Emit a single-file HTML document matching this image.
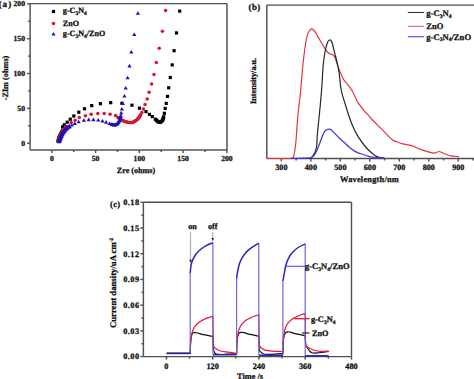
<!DOCTYPE html>
<html><head><meta charset="utf-8"><style>
html,body{margin:0;padding:0;background:#fff;width:474px;height:379px;overflow:hidden;}
svg{display:block;}
</style></head><body>
<svg width="474" height="379" viewBox="0 0 474 379" font-family='"Liberation Serif", serif' font-weight="bold" fill="#111" text-rendering="geometricPrecision">
<line x1="30.10" y1="3.60" x2="227.00" y2="3.60" stroke="#505050" stroke-width="1.45"/>
<line x1="30.10" y1="150.00" x2="227.00" y2="150.00" stroke="#505050" stroke-width="1.45"/>
<line x1="30.10" y1="3.60" x2="30.10" y2="150.00" stroke="#505050" stroke-width="1.45"/>
<line x1="227.00" y1="3.60" x2="227.00" y2="150.00" stroke="#505050" stroke-width="1.45"/>
<line x1="27.10" y1="143.20" x2="30.10" y2="143.20" stroke="#505050" stroke-width="1.45"/>
<text x="25.00" y="145.80" font-size="7.7" text-anchor="end"  stroke="#000" stroke-width="0.25">0</text>
<line x1="28.10" y1="125.78" x2="30.10" y2="125.78" stroke="#505050" stroke-width="1.45"/>
<line x1="27.10" y1="108.36" x2="30.10" y2="108.36" stroke="#505050" stroke-width="1.45"/>
<text x="25.00" y="110.96" font-size="7.7" text-anchor="end"  stroke="#000" stroke-width="0.25">50</text>
<line x1="28.10" y1="90.95" x2="30.10" y2="90.95" stroke="#505050" stroke-width="1.45"/>
<line x1="27.10" y1="73.53" x2="30.10" y2="73.53" stroke="#505050" stroke-width="1.45"/>
<text x="25.00" y="76.13" font-size="7.7" text-anchor="end"  stroke="#000" stroke-width="0.25">100</text>
<line x1="28.10" y1="56.11" x2="30.10" y2="56.11" stroke="#505050" stroke-width="1.45"/>
<line x1="27.10" y1="38.69" x2="30.10" y2="38.69" stroke="#505050" stroke-width="1.45"/>
<text x="25.00" y="41.29" font-size="7.7" text-anchor="end"  stroke="#000" stroke-width="0.25">150</text>
<line x1="28.10" y1="21.28" x2="30.10" y2="21.28" stroke="#505050" stroke-width="1.45"/>
<line x1="27.10" y1="3.86" x2="30.10" y2="3.86" stroke="#505050" stroke-width="1.45"/>
<text x="25.00" y="6.46" font-size="7.7" text-anchor="end"  stroke="#000" stroke-width="0.25">200</text>
<line x1="51.80" y1="150.00" x2="51.80" y2="153.00" stroke="#505050" stroke-width="1.45"/>
<text x="51.80" y="161.30" font-size="7.7" text-anchor="middle"  stroke="#000" stroke-width="0.25">0</text>
<line x1="73.69" y1="150.00" x2="73.69" y2="152.00" stroke="#505050" stroke-width="1.45"/>
<line x1="95.58" y1="150.00" x2="95.58" y2="153.00" stroke="#505050" stroke-width="1.45"/>
<text x="95.58" y="161.30" font-size="7.7" text-anchor="middle"  stroke="#000" stroke-width="0.25">50</text>
<line x1="117.47" y1="150.00" x2="117.47" y2="152.00" stroke="#505050" stroke-width="1.45"/>
<line x1="139.36" y1="150.00" x2="139.36" y2="153.00" stroke="#505050" stroke-width="1.45"/>
<text x="139.36" y="161.30" font-size="7.7" text-anchor="middle"  stroke="#000" stroke-width="0.25">100</text>
<line x1="161.25" y1="150.00" x2="161.25" y2="152.00" stroke="#505050" stroke-width="1.45"/>
<line x1="183.14" y1="150.00" x2="183.14" y2="153.00" stroke="#505050" stroke-width="1.45"/>
<text x="183.14" y="161.30" font-size="7.7" text-anchor="middle"  stroke="#000" stroke-width="0.25">150</text>
<line x1="205.03" y1="150.00" x2="205.03" y2="152.00" stroke="#505050" stroke-width="1.45"/>
<line x1="226.92" y1="150.00" x2="226.92" y2="153.00" stroke="#505050" stroke-width="1.45"/>
<text x="226.92" y="161.30" font-size="7.7" text-anchor="middle"  stroke="#000" stroke-width="0.25">200</text>
<text x="136.00" y="172.80" font-size="8.1" text-anchor="middle"  stroke="#000" stroke-width="0.25">Zre (ohms)</text>
<text transform="translate(8.4,78) rotate(-90)" x="0" y="0" font-size="8.25" text-anchor="middle" stroke="#000" stroke-width="0.25">-ZIm (ohms)</text>
<text x="-1.20" y="7.00" font-size="9.0" text-anchor="start"  stroke="#000" stroke-width="0.25">(<tspan x="2.6">a</tspan><tspan x="8.3">)</tspan></text>
<rect x="56.40" y="139.40" width="3.2" height="3.2" fill="#000"/>
<rect x="56.75" y="138.33" width="3.2" height="3.2" fill="#000"/>
<rect x="57.10" y="137.25" width="3.2" height="3.2" fill="#000"/>
<rect x="57.45" y="136.18" width="3.2" height="3.2" fill="#000"/>
<rect x="57.80" y="135.10" width="3.2" height="3.2" fill="#000"/>
<rect x="58.27" y="134.10" width="3.2" height="3.2" fill="#000"/>
<rect x="58.75" y="133.10" width="3.2" height="3.2" fill="#000"/>
<rect x="59.22" y="132.10" width="3.2" height="3.2" fill="#000"/>
<rect x="59.70" y="131.10" width="3.2" height="3.2" fill="#000"/>
<rect x="60.30" y="130.05" width="3.2" height="3.2" fill="#000"/>
<rect x="60.90" y="129.00" width="3.2" height="3.2" fill="#000"/>
<rect x="61.00" y="125.40" width="3.2" height="3.2" fill="#000"/>
<rect x="62.60" y="123.20" width="3.2" height="3.2" fill="#000"/>
<rect x="65.60" y="120.60" width="3.2" height="3.2" fill="#000"/>
<rect x="68.70" y="117.60" width="3.2" height="3.2" fill="#000"/>
<rect x="72.20" y="114.40" width="3.2" height="3.2" fill="#000"/>
<rect x="77.20" y="110.60" width="3.2" height="3.2" fill="#000"/>
<rect x="82.90" y="107.20" width="3.2" height="3.2" fill="#000"/>
<rect x="90.10" y="104.00" width="3.2" height="3.2" fill="#000"/>
<rect x="98.80" y="102.10" width="3.2" height="3.2" fill="#000"/>
<rect x="109.10" y="101.10" width="3.2" height="3.2" fill="#000"/>
<rect x="120.30" y="101.70" width="3.2" height="3.2" fill="#000"/>
<rect x="130.30" y="103.60" width="3.2" height="3.2" fill="#000"/>
<rect x="137.80" y="106.60" width="3.2" height="3.2" fill="#000"/>
<rect x="144.40" y="110.00" width="3.2" height="3.2" fill="#000"/>
<rect x="147.80" y="112.80" width="3.2" height="3.2" fill="#000"/>
<rect x="150.70" y="115.00" width="3.2" height="3.2" fill="#000"/>
<rect x="153.80" y="117.60" width="3.2" height="3.2" fill="#000"/>
<rect x="154.45" y="118.25" width="3.2" height="3.2" fill="#000"/>
<rect x="155.10" y="118.90" width="3.2" height="3.2" fill="#000"/>
<rect x="155.75" y="119.55" width="3.2" height="3.2" fill="#000"/>
<rect x="156.40" y="120.20" width="3.2" height="3.2" fill="#000"/>
<rect x="157.50" y="120.50" width="3.2" height="3.2" fill="#000"/>
<rect x="158.60" y="120.80" width="3.2" height="3.2" fill="#000"/>
<rect x="159.37" y="120.17" width="3.2" height="3.2" fill="#000"/>
<rect x="160.13" y="119.53" width="3.2" height="3.2" fill="#000"/>
<rect x="160.90" y="118.90" width="3.2" height="3.2" fill="#000"/>
<rect x="161.20" y="117.98" width="3.2" height="3.2" fill="#000"/>
<rect x="161.50" y="117.05" width="3.2" height="3.2" fill="#000"/>
<rect x="161.80" y="116.12" width="3.2" height="3.2" fill="#000"/>
<rect x="162.10" y="115.20" width="3.2" height="3.2" fill="#000"/>
<rect x="162.80" y="111.70" width="3.2" height="3.2" fill="#000"/>
<rect x="163.60" y="106.80" width="3.2" height="3.2" fill="#000"/>
<rect x="164.60" y="101.80" width="3.2" height="3.2" fill="#000"/>
<rect x="165.90" y="94.80" width="3.2" height="3.2" fill="#000"/>
<rect x="167.10" y="86.20" width="3.2" height="3.2" fill="#000"/>
<rect x="168.70" y="75.90" width="3.2" height="3.2" fill="#000"/>
<rect x="170.60" y="63.30" width="3.2" height="3.2" fill="#000"/>
<rect x="172.50" y="49.10" width="3.2" height="3.2" fill="#000"/>
<rect x="174.90" y="31.30" width="3.2" height="3.2" fill="#000"/>
<rect x="178.10" y="9.50" width="3.2" height="3.2" fill="#000"/>
<circle cx="58.50" cy="140.90" r="1.75" fill="#d81530"/>
<circle cx="58.85" cy="139.83" r="1.75" fill="#d81530"/>
<circle cx="59.20" cy="138.75" r="1.75" fill="#d81530"/>
<circle cx="59.55" cy="137.68" r="1.75" fill="#d81530"/>
<circle cx="59.90" cy="136.60" r="1.75" fill="#d81530"/>
<circle cx="60.38" cy="135.60" r="1.75" fill="#d81530"/>
<circle cx="60.85" cy="134.60" r="1.75" fill="#d81530"/>
<circle cx="61.32" cy="133.60" r="1.75" fill="#d81530"/>
<circle cx="61.80" cy="132.60" r="1.75" fill="#d81530"/>
<circle cx="62.40" cy="131.70" r="1.75" fill="#d81530"/>
<circle cx="63.00" cy="130.80" r="1.75" fill="#d81530"/>
<circle cx="63.60" cy="129.90" r="1.75" fill="#d81530"/>
<circle cx="64.20" cy="129.00" r="1.75" fill="#d81530"/>
<circle cx="65.03" cy="128.17" r="1.75" fill="#d81530"/>
<circle cx="65.87" cy="127.33" r="1.75" fill="#d81530"/>
<circle cx="66.70" cy="126.50" r="1.75" fill="#d81530"/>
<circle cx="71.20" cy="122.60" r="1.75" fill="#d81530"/>
<circle cx="75.10" cy="120.30" r="1.75" fill="#d81530"/>
<circle cx="79.30" cy="117.60" r="1.75" fill="#d81530"/>
<circle cx="85.40" cy="115.70" r="1.75" fill="#d81530"/>
<circle cx="91.10" cy="114.30" r="1.75" fill="#d81530"/>
<circle cx="97.80" cy="113.50" r="1.75" fill="#d81530"/>
<circle cx="104.20" cy="113.50" r="1.75" fill="#d81530"/>
<circle cx="110.10" cy="114.30" r="1.75" fill="#d81530"/>
<circle cx="115.60" cy="115.40" r="1.75" fill="#d81530"/>
<circle cx="118.00" cy="117.40" r="1.75" fill="#d81530"/>
<circle cx="118.62" cy="117.93" r="1.75" fill="#d81530"/>
<circle cx="119.25" cy="118.45" r="1.75" fill="#d81530"/>
<circle cx="119.88" cy="118.97" r="1.75" fill="#d81530"/>
<circle cx="120.50" cy="119.50" r="1.75" fill="#d81530"/>
<circle cx="121.38" cy="119.92" r="1.75" fill="#d81530"/>
<circle cx="122.25" cy="120.35" r="1.75" fill="#d81530"/>
<circle cx="123.12" cy="120.78" r="1.75" fill="#d81530"/>
<circle cx="124.00" cy="121.20" r="1.75" fill="#d81530"/>
<circle cx="124.90" cy="121.44" r="1.75" fill="#d81530"/>
<circle cx="125.80" cy="121.68" r="1.75" fill="#d81530"/>
<circle cx="126.70" cy="121.92" r="1.75" fill="#d81530"/>
<circle cx="127.60" cy="122.16" r="1.75" fill="#d81530"/>
<circle cx="128.50" cy="122.40" r="1.75" fill="#d81530"/>
<circle cx="129.34" cy="122.42" r="1.75" fill="#d81530"/>
<circle cx="130.18" cy="122.44" r="1.75" fill="#d81530"/>
<circle cx="131.02" cy="122.46" r="1.75" fill="#d81530"/>
<circle cx="131.86" cy="122.48" r="1.75" fill="#d81530"/>
<circle cx="132.70" cy="122.50" r="1.75" fill="#d81530"/>
<circle cx="133.46" cy="122.04" r="1.75" fill="#d81530"/>
<circle cx="134.22" cy="121.58" r="1.75" fill="#d81530"/>
<circle cx="134.98" cy="121.12" r="1.75" fill="#d81530"/>
<circle cx="135.74" cy="120.66" r="1.75" fill="#d81530"/>
<circle cx="136.50" cy="120.20" r="1.75" fill="#d81530"/>
<circle cx="137.04" cy="119.60" r="1.75" fill="#d81530"/>
<circle cx="137.58" cy="119.00" r="1.75" fill="#d81530"/>
<circle cx="138.12" cy="118.40" r="1.75" fill="#d81530"/>
<circle cx="138.66" cy="117.80" r="1.75" fill="#d81530"/>
<circle cx="139.20" cy="117.20" r="1.75" fill="#d81530"/>
<circle cx="139.67" cy="116.40" r="1.75" fill="#d81530"/>
<circle cx="140.13" cy="115.60" r="1.75" fill="#d81530"/>
<circle cx="140.60" cy="114.80" r="1.75" fill="#d81530"/>
<circle cx="141.80" cy="112.60" r="1.75" fill="#d81530"/>
<circle cx="143.40" cy="109.00" r="1.75" fill="#d81530"/>
<circle cx="145.00" cy="104.60" r="1.75" fill="#d81530"/>
<circle cx="147.20" cy="98.90" r="1.75" fill="#d81530"/>
<circle cx="149.10" cy="92.20" r="1.75" fill="#d81530"/>
<circle cx="151.60" cy="83.90" r="1.75" fill="#d81530"/>
<circle cx="154.00" cy="74.40" r="1.75" fill="#d81530"/>
<circle cx="156.30" cy="62.60" r="1.75" fill="#d81530"/>
<circle cx="159.20" cy="48.30" r="1.75" fill="#d81530"/>
<circle cx="162.40" cy="31.20" r="1.75" fill="#d81530"/>
<circle cx="165.60" cy="10.50" r="1.75" fill="#d81530"/>
<polygon points="56.60,143.20 61.60,143.20 59.10,138.80" fill="#1a10b8"/>
<polygon points="56.95,142.20 61.95,142.20 59.45,137.80" fill="#1a10b8"/>
<polygon points="57.30,141.20 62.30,141.20 59.80,136.80" fill="#1a10b8"/>
<polygon points="57.65,140.20 62.65,140.20 60.15,135.80" fill="#1a10b8"/>
<polygon points="58.00,139.20 63.00,139.20 60.50,134.80" fill="#1a10b8"/>
<polygon points="58.48,138.20 63.48,138.20 60.98,133.80" fill="#1a10b8"/>
<polygon points="58.95,137.20 63.95,137.20 61.45,132.80" fill="#1a10b8"/>
<polygon points="59.42,136.20 64.42,136.20 61.92,131.80" fill="#1a10b8"/>
<polygon points="59.90,135.20 64.90,135.20 62.40,130.80" fill="#1a10b8"/>
<polygon points="60.50,134.35 65.50,134.35 63.00,129.95" fill="#1a10b8"/>
<polygon points="61.10,133.50 66.10,133.50 63.60,129.10" fill="#1a10b8"/>
<polygon points="61.70,132.65 66.70,132.65 64.20,128.25" fill="#1a10b8"/>
<polygon points="62.30,131.80 67.30,131.80 64.80,127.40" fill="#1a10b8"/>
<polygon points="63.10,131.00 68.10,131.00 65.60,126.60" fill="#1a10b8"/>
<polygon points="63.90,130.20 68.90,130.20 66.40,125.80" fill="#1a10b8"/>
<polygon points="64.70,129.40 69.70,129.40 67.20,125.00" fill="#1a10b8"/>
<polygon points="65.80,128.80 70.80,128.80 68.30,124.40" fill="#1a10b8"/>
<polygon points="66.90,128.20 71.90,128.20 69.40,123.80" fill="#1a10b8"/>
<polygon points="69.70,126.60 73.90,126.60 71.80,123.00" fill="#1a10b8"/>
<polygon points="72.70,125.00 76.90,125.00 74.80,121.40" fill="#1a10b8"/>
<polygon points="76.60,123.30 80.80,123.30 78.70,119.70" fill="#1a10b8"/>
<polygon points="81.80,121.80 86.00,121.80 83.90,118.20" fill="#1a10b8"/>
<polygon points="86.60,121.20 90.80,121.20 88.70,117.60" fill="#1a10b8"/>
<polygon points="91.30,121.20 95.50,121.20 93.40,117.60" fill="#1a10b8"/>
<polygon points="96.10,121.60 100.30,121.60 98.20,118.00" fill="#1a10b8"/>
<polygon points="100.40,122.60 104.60,122.60 102.50,119.00" fill="#1a10b8"/>
<polygon points="104.00,123.70 108.20,123.70 106.10,120.10" fill="#1a10b8"/>
<polygon points="107.50,125.00 111.70,125.00 109.60,121.40" fill="#1a10b8"/>
<polygon points="109.40,125.80 113.60,125.80 111.50,122.20" fill="#1a10b8"/>
<polygon points="110.23,126.00 114.43,126.00 112.33,122.40" fill="#1a10b8"/>
<polygon points="111.07,126.20 115.27,126.20 113.17,122.60" fill="#1a10b8"/>
<polygon points="111.90,126.40 116.10,126.40 114.00,122.80" fill="#1a10b8"/>
<polygon points="112.73,126.27 116.93,126.27 114.83,122.67" fill="#1a10b8"/>
<polygon points="113.57,126.13 117.77,126.13 115.67,122.53" fill="#1a10b8"/>
<polygon points="114.40,126.00 118.60,126.00 116.50,122.40" fill="#1a10b8"/>
<polygon points="115.07,125.27 119.27,125.27 117.17,121.67" fill="#1a10b8"/>
<polygon points="115.73,124.53 119.93,124.53 117.83,120.93" fill="#1a10b8"/>
<polygon points="116.40,123.80 120.60,123.80 118.50,120.20" fill="#1a10b8"/>
<polygon points="116.78,122.92 120.97,122.92 118.88,119.33" fill="#1a10b8"/>
<polygon points="117.15,122.05 121.35,122.05 119.25,118.45" fill="#1a10b8"/>
<polygon points="117.53,121.17 121.72,121.17 119.62,117.58" fill="#1a10b8"/>
<polygon points="117.90,120.30 122.10,120.30 120.00,116.70" fill="#1a10b8"/>
<polygon points="118.17,119.30 122.37,119.30 120.27,115.70" fill="#1a10b8"/>
<polygon points="118.43,118.30 122.63,118.30 120.53,114.70" fill="#1a10b8"/>
<polygon points="118.70,117.30 122.90,117.30 120.80,113.70" fill="#1a10b8"/>
<polygon points="119.10,114.40 123.30,114.40 121.20,110.80" fill="#1a10b8"/>
<polygon points="119.80,110.60 124.00,110.60 121.90,107.00" fill="#1a10b8"/>
<polygon points="120.70,105.10 124.90,105.10 122.80,101.50" fill="#1a10b8"/>
<polygon points="122.30,97.50 126.50,97.50 124.40,93.90" fill="#1a10b8"/>
<polygon points="123.60,89.60 127.80,89.60 125.70,86.00" fill="#1a10b8"/>
<polygon points="125.50,79.30 129.70,79.30 127.60,75.70" fill="#1a10b8"/>
<polygon points="127.40,67.40 131.60,67.40 129.50,63.80" fill="#1a10b8"/>
<polygon points="129.20,53.50 133.40,53.50 131.30,49.90" fill="#1a10b8"/>
<polygon points="132.20,36.10 136.40,36.10 134.30,32.50" fill="#1a10b8"/>
<polygon points="135.80,14.80 140.00,14.80 137.90,11.20" fill="#1a10b8"/>
<rect x="51.90" y="9.90" width="3.2" height="3.2" fill="#000"/>
<circle cx="53.50" cy="23.50" r="1.75" fill="#d81530"/>
<polygon points="51.40,35.60 55.60,35.60 53.50,32.00" fill="#1a10b8"/>
<text x="62.80" y="13.10" font-size="8.1" text-anchor="start" stroke="#000" stroke-width="0.25">g-C<tspan font-size="5.6" dy="1.8">3</tspan><tspan dy="-1.8">N</tspan><tspan font-size="5.6" dy="1.8">4</tspan></text>
<text x="62.80" y="25.80" font-size="8.1" text-anchor="start" stroke="#000" stroke-width="0.25">ZnO</text>
<text x="62.80" y="35.80" font-size="8.1" text-anchor="start" stroke="#000" stroke-width="0.25">g-C<tspan font-size="5.6" dy="1.8">3</tspan><tspan dy="-1.8">N</tspan><tspan font-size="5.6" dy="1.8">4</tspan><tspan dy="-1.8">/ZnO</tspan></text>
<line x1="266.80" y1="5.10" x2="480.00" y2="5.10" stroke="#505050" stroke-width="1.45"/>
<line x1="266.80" y1="158.50" x2="480.00" y2="158.50" stroke="#505050" stroke-width="1.45"/>
<line x1="266.80" y1="5.10" x2="266.80" y2="158.50" stroke="#505050" stroke-width="1.45"/>
<line x1="281.40" y1="158.50" x2="281.40" y2="161.50" stroke="#505050" stroke-width="1.45"/>
<text x="281.40" y="170.30" font-size="8.2" text-anchor="middle"  stroke="#000" stroke-width="0.25">300</text>
<line x1="296.14" y1="158.50" x2="296.14" y2="160.50" stroke="#505050" stroke-width="1.45"/>
<line x1="310.88" y1="158.50" x2="310.88" y2="161.50" stroke="#505050" stroke-width="1.45"/>
<text x="310.88" y="170.30" font-size="8.2" text-anchor="middle"  stroke="#000" stroke-width="0.25">400</text>
<line x1="325.62" y1="158.50" x2="325.62" y2="160.50" stroke="#505050" stroke-width="1.45"/>
<line x1="340.36" y1="158.50" x2="340.36" y2="161.50" stroke="#505050" stroke-width="1.45"/>
<text x="340.36" y="170.30" font-size="8.2" text-anchor="middle"  stroke="#000" stroke-width="0.25">500</text>
<line x1="355.10" y1="158.50" x2="355.10" y2="160.50" stroke="#505050" stroke-width="1.45"/>
<line x1="369.84" y1="158.50" x2="369.84" y2="161.50" stroke="#505050" stroke-width="1.45"/>
<text x="369.84" y="170.30" font-size="8.2" text-anchor="middle"  stroke="#000" stroke-width="0.25">600</text>
<line x1="384.58" y1="158.50" x2="384.58" y2="160.50" stroke="#505050" stroke-width="1.45"/>
<line x1="399.32" y1="158.50" x2="399.32" y2="161.50" stroke="#505050" stroke-width="1.45"/>
<text x="399.32" y="170.30" font-size="8.2" text-anchor="middle"  stroke="#000" stroke-width="0.25">700</text>
<line x1="414.06" y1="158.50" x2="414.06" y2="160.50" stroke="#505050" stroke-width="1.45"/>
<line x1="428.80" y1="158.50" x2="428.80" y2="161.50" stroke="#505050" stroke-width="1.45"/>
<text x="428.80" y="170.30" font-size="8.2" text-anchor="middle"  stroke="#000" stroke-width="0.25">800</text>
<line x1="443.54" y1="158.50" x2="443.54" y2="160.50" stroke="#505050" stroke-width="1.45"/>
<line x1="458.28" y1="158.50" x2="458.28" y2="161.50" stroke="#505050" stroke-width="1.45"/>
<text x="458.28" y="170.30" font-size="8.2" text-anchor="middle"  stroke="#000" stroke-width="0.25">900</text>
<line x1="473.02" y1="158.50" x2="473.02" y2="160.50" stroke="#505050" stroke-width="1.45"/>
<text x="369.50" y="182.00" font-size="8.4" text-anchor="middle" letter-spacing="0.2" stroke="#000" stroke-width="0.25">Wavelength/nm</text>
<text transform="translate(256.3,80.9) rotate(-90)" x="0" y="0" font-size="8.25" text-anchor="middle" stroke="#000" stroke-width="0.25">Intensity/a.u.</text>
<text x="248.60" y="10.00" font-size="9.0" text-anchor="start" letter-spacing="0.3" stroke="#000" stroke-width="0.25">(b)</text>
<path d="M266.80,158.50 C270.33,158.50 283.88,158.53 288.00,158.50 C292.12,158.47 290.57,158.63 291.50,158.30 C292.43,157.97 292.88,159.10 293.60,156.50 C294.32,153.90 295.08,149.57 295.80,142.70 C296.52,135.83 297.15,123.42 297.90,115.30 C298.65,107.18 299.42,102.85 300.30,94.00 C301.18,85.15 302.18,71.37 303.20,62.20 C304.22,53.03 305.43,44.12 306.40,39.00 C307.37,33.88 308.13,33.20 309.00,31.50 C309.87,29.80 310.68,28.92 311.60,28.80 C312.52,28.68 313.43,29.45 314.50,30.80 C315.57,32.15 316.92,35.03 318.00,36.90 C319.08,38.77 319.95,40.25 321.00,42.00 C322.05,43.75 323.30,45.82 324.30,47.40 C325.30,48.98 326.12,50.43 327.00,51.50 C327.88,52.57 328.65,53.28 329.60,53.80 C330.55,54.32 331.80,53.98 332.70,54.60 C333.60,55.22 334.12,55.53 335.00,57.50 C335.88,59.47 336.62,62.82 338.00,66.40 C339.38,69.98 341.72,76.02 343.30,79.00 C344.88,81.98 346.10,82.47 347.50,84.30 C348.90,86.13 350.30,87.63 351.70,90.00 C353.10,92.37 354.85,96.38 355.90,98.50 C356.95,100.62 356.58,100.60 358.00,102.70 C359.42,104.80 362.63,109.00 364.40,111.10 C366.17,113.20 367.33,113.90 368.60,115.30 C369.87,116.70 370.67,118.03 372.00,119.50 C373.33,120.97 374.73,122.23 376.60,124.10 C378.47,125.97 380.65,128.13 383.20,130.70 C385.75,133.27 389.60,137.65 391.90,139.50 C394.20,141.35 395.17,141.07 397.00,141.80 C398.83,142.53 400.45,143.27 402.90,143.90 C405.35,144.53 408.77,144.68 411.70,145.60 C414.63,146.52 417.58,148.30 420.50,149.40 C423.42,150.50 426.83,151.58 429.20,152.20 C431.57,152.82 433.43,153.10 434.70,153.10 C435.97,153.10 436.07,152.47 436.80,152.20 C437.53,151.93 438.32,151.48 439.10,151.50 C439.88,151.52 440.58,151.92 441.50,152.30 C442.42,152.68 442.98,153.20 444.60,153.80 C446.22,154.40 448.82,155.43 451.20,155.90 C453.58,156.37 457.62,156.48 458.90,156.60" fill="none" stroke="#e0343f" stroke-width="1.2" stroke-linejoin="round"/>
<path d="M300.00,158.50 C301.58,158.47 307.58,158.45 309.50,158.30 C311.42,158.15 310.83,158.15 311.50,157.60 C312.17,157.05 312.87,156.03 313.50,155.00 C314.13,153.97 314.77,152.95 315.30,151.40 C315.83,149.85 316.37,148.35 316.70,145.70 C317.03,143.05 316.98,139.45 317.30,135.50 C317.62,131.55 318.13,126.77 318.60,122.00 C319.07,117.23 319.60,112.23 320.10,106.90 C320.60,101.57 321.08,96.98 321.60,90.00 C322.12,83.02 322.63,71.33 323.20,65.00 C323.77,58.67 324.28,55.75 325.00,52.00 C325.72,48.25 326.73,44.50 327.50,42.50 C328.27,40.50 328.88,40.08 329.60,40.00 C330.32,39.92 330.92,39.70 331.80,42.00 C332.68,44.30 334.03,50.47 334.90,53.80 C335.77,57.13 336.30,58.85 337.00,62.00 C337.70,65.15 338.40,68.03 339.10,72.70 C339.80,77.37 340.15,84.65 341.20,90.00 C342.25,95.35 343.65,99.17 345.40,104.80 C347.15,110.43 349.60,118.53 351.70,123.80 C353.80,129.07 355.53,132.37 358.00,136.40 C360.47,140.43 363.68,144.83 366.50,148.00 C369.32,151.17 372.65,153.80 374.90,155.40 C377.15,157.00 378.40,157.12 380.00,157.60 C381.60,158.08 383.75,158.18 384.50,158.30" fill="none" stroke="#262626" stroke-width="1.2" stroke-linejoin="round"/>
<path d="M291.00,158.30 C293.83,158.28 304.72,158.28 308.00,158.20 C311.28,158.12 309.95,158.03 310.70,157.80 C311.45,157.57 311.90,157.27 312.50,156.80 C313.10,156.33 313.65,155.90 314.30,155.00 C314.95,154.10 315.70,152.83 316.40,151.40 C317.10,149.97 317.78,148.18 318.50,146.40 C319.22,144.62 319.98,142.60 320.70,140.70 C321.42,138.80 322.17,136.52 322.80,135.00 C323.43,133.48 323.88,132.47 324.50,131.60 C325.12,130.73 325.77,130.20 326.50,129.80 C327.23,129.40 328.15,129.20 328.90,129.20 C329.65,129.20 330.28,129.35 331.00,129.80 C331.72,130.25 331.73,130.45 333.20,131.90 C334.67,133.35 337.60,136.42 339.80,138.50 C342.00,140.58 344.77,142.88 346.40,144.40 C348.03,145.92 348.17,146.43 349.60,147.60 C351.03,148.77 353.23,150.42 355.00,151.40 C356.77,152.38 357.93,152.68 360.20,153.50 C362.47,154.32 365.97,155.62 368.60,156.30 C371.23,156.98 373.35,157.27 376.00,157.60 C378.65,157.93 383.08,158.18 384.50,158.30" fill="none" stroke="#3a3ae0" stroke-width="1.3" stroke-linejoin="round"/>
<line x1="407.80" y1="12.50" x2="424.00" y2="12.50" stroke="#333" stroke-width="1.1"/>
<line x1="407.80" y1="26.40" x2="424.00" y2="26.40" stroke="#e06a72" stroke-width="1.1"/>
<line x1="407.80" y1="36.70" x2="424.00" y2="36.70" stroke="#6262e0" stroke-width="1.3"/>
<text x="426.30" y="16.00" font-size="8.6" text-anchor="start" stroke="#000" stroke-width="0.25">g-C<tspan font-size="5.6" dy="1.8">3</tspan><tspan dy="-1.8">N</tspan><tspan font-size="5.6" dy="1.8">4</tspan></text>
<text x="426.30" y="29.00" font-size="8.6" text-anchor="start" stroke="#000" stroke-width="0.25">ZnO</text>
<text x="426.30" y="39.60" font-size="8.6" text-anchor="start" stroke="#000" stroke-width="0.25">g-C<tspan font-size="5.6" dy="1.8">3</tspan><tspan dy="-1.8">N</tspan><tspan font-size="5.6" dy="1.8">4</tspan><tspan dy="-1.8">/ZnO</tspan></text>
<line x1="143.40" y1="202.30" x2="351.50" y2="202.30" stroke="#505050" stroke-width="1.45"/>
<line x1="143.40" y1="356.60" x2="351.50" y2="356.60" stroke="#505050" stroke-width="1.45"/>
<line x1="143.40" y1="202.30" x2="143.40" y2="356.60" stroke="#505050" stroke-width="1.45"/>
<line x1="351.50" y1="202.30" x2="351.50" y2="356.60" stroke="#505050" stroke-width="1.45"/>
<line x1="140.40" y1="356.60" x2="143.40" y2="356.60" stroke="#505050" stroke-width="1.45"/>
<text x="139.50" y="359.40" font-size="8.3" text-anchor="end" letter-spacing="0.45" stroke="#000" stroke-width="0.25">0.00</text>
<line x1="141.40" y1="343.74" x2="143.40" y2="343.74" stroke="#505050" stroke-width="1.45"/>
<line x1="140.40" y1="330.88" x2="143.40" y2="330.88" stroke="#505050" stroke-width="1.45"/>
<text x="139.50" y="333.68" font-size="8.3" text-anchor="end" letter-spacing="0.45" stroke="#000" stroke-width="0.25">0.03</text>
<line x1="141.40" y1="318.03" x2="143.40" y2="318.03" stroke="#505050" stroke-width="1.45"/>
<line x1="140.40" y1="305.17" x2="143.40" y2="305.17" stroke="#505050" stroke-width="1.45"/>
<text x="139.50" y="307.97" font-size="8.3" text-anchor="end" letter-spacing="0.45" stroke="#000" stroke-width="0.25">0.06</text>
<line x1="141.40" y1="292.31" x2="143.40" y2="292.31" stroke="#505050" stroke-width="1.45"/>
<line x1="140.40" y1="279.45" x2="143.40" y2="279.45" stroke="#505050" stroke-width="1.45"/>
<text x="139.50" y="282.25" font-size="8.3" text-anchor="end" letter-spacing="0.45" stroke="#000" stroke-width="0.25">0.09</text>
<line x1="141.40" y1="266.59" x2="143.40" y2="266.59" stroke="#505050" stroke-width="1.45"/>
<line x1="140.40" y1="253.73" x2="143.40" y2="253.73" stroke="#505050" stroke-width="1.45"/>
<text x="139.50" y="256.53" font-size="8.3" text-anchor="end" letter-spacing="0.45" stroke="#000" stroke-width="0.25">0.12</text>
<line x1="141.40" y1="240.88" x2="143.40" y2="240.88" stroke="#505050" stroke-width="1.45"/>
<line x1="140.40" y1="228.02" x2="143.40" y2="228.02" stroke="#505050" stroke-width="1.45"/>
<text x="139.50" y="230.82" font-size="8.3" text-anchor="end" letter-spacing="0.45" stroke="#000" stroke-width="0.25">0.15</text>
<line x1="141.40" y1="215.16" x2="143.40" y2="215.16" stroke="#505050" stroke-width="1.45"/>
<line x1="140.40" y1="202.30" x2="143.40" y2="202.30" stroke="#505050" stroke-width="1.45"/>
<text x="139.50" y="205.10" font-size="8.3" text-anchor="end" letter-spacing="0.45" stroke="#000" stroke-width="0.25">0.18</text>
<line x1="166.40" y1="356.60" x2="166.40" y2="359.60" stroke="#505050" stroke-width="1.45"/>
<text x="166.40" y="368.50" font-size="8.3" text-anchor="middle"  stroke="#000" stroke-width="0.25">0</text>
<line x1="189.53" y1="356.60" x2="189.53" y2="358.60" stroke="#505050" stroke-width="1.45"/>
<line x1="212.67" y1="356.60" x2="212.67" y2="359.60" stroke="#505050" stroke-width="1.45"/>
<text x="212.67" y="368.50" font-size="8.3" text-anchor="middle"  stroke="#000" stroke-width="0.25">120</text>
<line x1="235.81" y1="356.60" x2="235.81" y2="358.60" stroke="#505050" stroke-width="1.45"/>
<line x1="258.94" y1="356.60" x2="258.94" y2="359.60" stroke="#505050" stroke-width="1.45"/>
<text x="258.94" y="368.50" font-size="8.3" text-anchor="middle"  stroke="#000" stroke-width="0.25">240</text>
<line x1="282.07" y1="356.60" x2="282.07" y2="358.60" stroke="#505050" stroke-width="1.45"/>
<line x1="305.21" y1="356.60" x2="305.21" y2="359.60" stroke="#505050" stroke-width="1.45"/>
<text x="305.21" y="368.50" font-size="8.3" text-anchor="middle"  stroke="#000" stroke-width="0.25">360</text>
<line x1="328.35" y1="356.60" x2="328.35" y2="358.60" stroke="#505050" stroke-width="1.45"/>
<line x1="351.48" y1="356.60" x2="351.48" y2="359.60" stroke="#505050" stroke-width="1.45"/>
<text x="351.48" y="368.50" font-size="8.3" text-anchor="middle"  stroke="#000" stroke-width="0.25">480</text>
<text x="250.00" y="378.90" font-size="8.3" text-anchor="middle"  stroke="#000" stroke-width="0.25">Time /s</text>
<text transform="translate(115.6,283.0) rotate(-90)" x="0" y="0" font-size="8.7" text-anchor="middle" stroke="#000" stroke-width="0.25">Current dansity/uA cm<tspan font-size="5.2" dy="-3">-2</tspan></text>
<text x="110.00" y="206.60" font-size="8.6" text-anchor="start" letter-spacing="0.3" stroke="#000" stroke-width="0.25">(c)</text>
<path d="M166.70,353.4 L190.20,353.40 L190.50,344.90 C190.58,343.67 190.65,339.45 191.00,337.50 C191.35,335.55 191.93,334.02 192.60,333.20 C193.27,332.38 194.15,332.63 195.00,332.60 C195.85,332.57 196.25,332.65 197.70,333.00 C199.15,333.35 201.17,334.13 203.70,334.70 C206.23,335.27 211.37,336.12 212.90,336.40 L213.20,346.40 L213.50,349.40 C213.70,349.97 214.22,352.03 214.70,352.80 C215.18,353.57 215.27,353.72 216.40,354.00 C217.53,354.28 219.25,354.50 221.50,354.50 C223.75,354.50 227.43,354.15 229.90,354.00 C232.37,353.85 235.23,353.67 236.30,353.60 L236.60,353.60 L236.90,344.90 C236.98,343.67 237.05,339.45 237.40,337.50 C237.75,335.55 238.33,334.07 239.00,333.20 C239.67,332.33 240.55,332.38 241.40,332.30 C242.25,332.22 242.65,332.35 244.10,332.70 C245.55,333.05 247.65,333.82 250.10,334.40 C252.55,334.98 257.35,335.90 258.80,336.20 L259.10,347.60 L259.40,350.60 C259.55,350.75 259.58,350.93 260.30,351.50 C261.02,352.07 261.73,353.53 263.70,354.00 C265.67,354.47 269.30,354.35 272.10,354.30 C274.90,354.25 278.75,353.82 280.50,353.70 C282.25,353.58 282.25,353.62 282.60,353.60 L282.90,353.60 L283.20,344.90 C283.28,343.67 283.35,339.45 283.70,337.50 C284.05,335.55 284.63,334.15 285.30,333.20 C285.97,332.25 286.85,331.97 287.70,331.80 C288.55,331.63 288.95,331.85 290.40,332.20 C291.85,332.55 293.93,333.33 296.40,333.90 C298.87,334.47 303.73,335.32 305.20,335.60 L305.50,342.50 L305.80,345.50 C306.50,346.50 308.80,350.25 310.00,351.50 C311.20,352.75 311.67,352.78 313.00,353.00 C314.33,353.22 315.38,353.05 318.00,352.80 C320.62,352.55 326.92,351.72 328.70,351.50" fill="none" stroke="#111" stroke-width="1.2" stroke-linejoin="round"/>
<path d="M166.70,353.4 L190.20,353.40 L190.40,346.85 C190.57,340.85 190.76,341.81 190.95,340.85 C191.13,339.88 191.32,336.76 191.62,335.07 C191.92,333.38 192.25,332.05 192.74,330.71 C193.23,329.36 193.79,328.16 194.53,327.00 C195.28,325.85 196.21,324.75 197.22,323.79 C198.23,322.82 199.27,322.04 200.58,321.23 C201.89,320.42 203.57,319.58 205.06,318.91 C206.55,318.25 208.23,317.68 209.54,317.22 C210.85,316.77 212.34,316.37 212.90,316.20 L213.20,342.00 L213.50,346.00 C213.85,346.43 214.55,347.82 215.60,348.60 C216.65,349.38 218.12,350.17 219.80,350.70 C221.48,351.23 223.45,351.45 225.70,351.80 C227.95,352.15 231.53,352.55 233.30,352.80 C235.07,353.05 235.80,353.22 236.30,353.30 L236.60,353.30 L236.80,345.45 C236.97,339.45 237.16,340.41 237.34,339.45 C237.52,338.48 237.70,335.36 238.00,333.67 C238.29,331.98 238.62,330.65 239.09,329.31 C239.56,327.96 240.11,326.76 240.84,325.60 C241.57,324.45 242.48,323.35 243.47,322.39 C244.46,321.42 245.48,320.64 246.76,319.83 C248.03,319.02 249.68,318.18 251.14,317.51 C252.60,316.85 254.24,316.28 255.52,315.82 C256.79,315.37 258.25,314.97 258.80,314.80 L259.10,341.60 L259.40,345.60 C259.68,346.02 260.12,347.35 261.10,348.10 C262.08,348.85 263.47,349.60 265.30,350.10 C267.13,350.60 269.57,350.87 272.10,351.10 C274.63,351.33 278.75,351.40 280.50,351.50 C282.25,351.60 282.25,351.67 282.60,351.70 L282.90,351.70 L283.10,344.15 C283.27,338.15 283.46,339.11 283.64,338.15 C283.82,337.18 284.01,334.06 284.30,332.37 C284.59,330.68 284.92,329.35 285.40,328.01 C285.88,326.66 286.43,325.46 287.16,324.30 C287.89,323.15 288.81,322.05 289.80,321.09 C290.79,320.12 291.82,319.34 293.10,318.53 C294.38,317.72 296.03,316.88 297.50,316.21 C298.97,315.55 300.62,314.98 301.90,314.52 C303.18,314.07 304.65,313.67 305.20,313.50 L305.50,341.00 L305.80,345.00 C305.92,345.25 305.80,345.92 306.50,346.50 C307.20,347.08 308.58,347.83 310.00,348.50 C311.42,349.17 313.33,350.03 315.00,350.50 C316.67,350.97 317.72,351.22 320.00,351.30 C322.28,351.38 327.25,351.05 328.70,351.00" fill="none" stroke="#e8182e" stroke-width="1.2" stroke-linejoin="round"/>
<path d=" M190.20,353.40 L190.20,273.30 M212.90,242.70 L212.90,354.80 M236.60,354.80 L236.60,278.60 M258.80,243.20 L258.80,355.20 M282.90,355.20 L282.90,281.20 M305.20,244.00 L305.20,355.80" fill="none" stroke="#6464e6" stroke-width="1.15"/>
<path d=" M190.20,273.30 C190.33,271.98 190.60,267.60 191.00,265.40 C191.40,263.20 191.78,261.97 192.60,260.10 C193.42,258.23 194.58,255.97 195.90,254.20 C197.22,252.43 198.85,250.90 200.50,249.50 C202.15,248.10 203.73,246.93 205.80,245.80 C207.87,244.67 211.72,243.22 212.90,242.70 M212.90,354.80 L236.60,354.80 M236.60,278.60 C236.72,277.72 236.97,275.28 237.30,273.30 C237.63,271.32 238.05,268.78 238.60,266.70 C239.15,264.62 239.62,262.88 240.60,260.80 C241.58,258.72 242.97,256.18 244.50,254.20 C246.03,252.22 248.03,250.38 249.80,248.90 C251.57,247.42 253.60,246.25 255.10,245.30 C256.60,244.35 258.18,243.55 258.80,243.20 M258.80,355.20 L282.90,355.20 M282.90,281.20 C283.13,279.88 283.85,275.83 284.30,273.30 C284.75,270.77 284.95,268.42 285.60,266.00 C286.25,263.58 287.10,261.00 288.20,258.80 C289.30,256.60 290.55,254.68 292.20,252.80 C293.85,250.92 295.93,248.97 298.10,247.50 C300.27,246.03 304.02,244.58 305.20,244.00 M305.20,355.80 L328.65,355.80" fill="none" stroke="#2626c4" stroke-width="1.5" stroke-linejoin="round"/>
<path d="M166.70,353.40 L190.20,353.40" fill="none" stroke="#2a1a9c" stroke-width="1.6"/>
<line x1="285.40" y1="266.30" x2="305.00" y2="266.30" stroke="#5050e0" stroke-width="1.1"/>
<text x="305.00" y="269.20" font-size="8.55" text-anchor="start" stroke="#000" stroke-width="0.25">g-C<tspan font-size="5.6" dy="1.8">3</tspan><tspan dy="-1.8">N</tspan><tspan font-size="5.6" dy="1.8">4</tspan><tspan dy="-1.8">/ZnO</tspan></text>
<line x1="293.80" y1="318.70" x2="309.50" y2="318.70" stroke="#e8182e" stroke-width="1.3"/>
<text x="310.90" y="322.00" font-size="8.4" text-anchor="start" stroke="#000" stroke-width="0.25">g-C<tspan font-size="5.6" dy="1.8">3</tspan><tspan dy="-1.8">N</tspan><tspan font-size="5.6" dy="1.8">4</tspan></text>
<line x1="301.80" y1="333.00" x2="309.50" y2="333.00" stroke="#111" stroke-width="1.1"/>
<text x="311.90" y="335.80" font-size="8.3" text-anchor="start" stroke="#000" stroke-width="0.25">ZnO</text>
<line x1="190.50" y1="232.20" x2="190.50" y2="260.50" stroke="#b4b4b4" stroke-width="1.3"/>
<polygon points="189.3,259.8 191.7,259.8 190.5,263" fill="#222"/>
<line x1="212.80" y1="232.20" x2="212.80" y2="238.50" stroke="#b4b4b4" stroke-width="1.3"/>
<polygon points="211.6,238 214.0,238 212.8,241.2" fill="#222"/>
<text x="192.60" y="228.50" font-size="8.2" text-anchor="middle" stroke="#000" stroke-width="0.25">on</text>
<text x="212.70" y="228.70" font-size="8.2" text-anchor="middle" stroke="#000" stroke-width="0.25">off</text>
</svg>
</body></html>
